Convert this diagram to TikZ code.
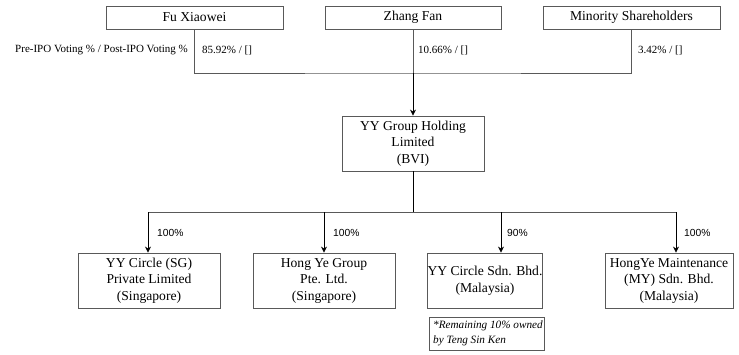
\documentclass[tikz,border=0pt]{standalone}
\usepackage{fontspec}
\setmainfont{Liberation Serif}
\newfontfamily\lsans{Liberation Sans}
\usetikzlibrary{arrows.meta}
\definecolor{ln}{gray}{0.35}
\begin{document}
\begin{tikzpicture}[x=1pt,y=-1pt,
  ent/.style={draw=ln, line width=0.8pt, inner sep=0pt, align=center, font=\fontsize{13.6}{16.5}\selectfont, minimum height=23pt},
  sub/.style={ent, minimum height=55pt},
  lbl/.style={font=\fontsize{11}{13}\selectfont, inner sep=0pt, anchor=west},
  pct/.style={font=\lsans\fontsize{10.3}{12}\selectfont, inner sep=0pt, anchor=west},
  conn/.style={draw=ln, line width=0.8pt},
  arr/.style={draw=black, line width=0.8pt, -{Stealth[length=6pt,width=6pt]}}]
\useasboundingbox (0,0) rectangle (739,354);
\node[ent, minimum width=177pt] (fu) at (194.5,17.5) {Fu Xiaowei};
\node[ent, minimum width=176pt] (zf) at (413,17.5) {Zhang Fan};
\node[ent, minimum width=177pt] (ms) at (631.5,17.5) {Minority Shareholders};
\node[font=\fontsize{11}{13}\selectfont, inner sep=0pt, anchor=east] (hdr) at (188,50) {Pre-IPO Voting \% / Post-IPO Voting \%};
\node[lbl] (p1) at (202,50) {85.92\% / []};
\node[lbl] (p2) at (418,50) {10.66\% / []};
\node[lbl] (p3) at (638,50) {3.42\% / []};
\coordinate (j) at (413,73);
\draw[conn] (fu.south) |- (j) -| (ms.south);
\draw[conn] (zf.south) -- (j);
\node[sub, minimum width=142pt] (yy) at (413,143.5) {YY Group Holding\\Limited\\(BVI)};
\draw[arr] (j) -- (yy.north);
\node[sub, minimum width=142pt] (sg) at (149,280.5) {YY Circle (SG)\\Private Limited\\(Singapore)};
\node[sub, minimum width=142pt] (hy) at (324,280.5) {Hong Ye Group\\Pte. Ltd.\\(Singapore)};
\node[sub, minimum width=114pt] (my) at (485,280.5) {YY Circle Sdn. Bhd.\\(Malaysia)};
\node[sub, minimum width=128pt] (hm) at (669,280.5) {HongYe Maintenance\\(MY) Sdn. Bhd.\\(Malaysia)};
\node[draw=ln, line width=0.8pt, minimum width=115pt, minimum height=33pt, inner sep=0pt] (note) at (486.5,333.5) {};
\node[font=\itshape\fontsize{11.2}{14.5}\selectfont, align=left, anchor=west, inner sep=0pt] (notetxt) at (433,333.5) {*Remaining 10\% owned\\by Teng Sin Ken};
\coordinate (b) at (413,212);
\coordinate (b1) at (148,212);
\coordinate (b2) at (324,212);
\coordinate (b3) at (501,212);
\coordinate (b4) at (676,212);
\draw[conn, draw=black] (yy.south) -- (b);
\draw[conn] (b1) -- (b4);
\draw[arr] (b1) -- (b1 |- sg.north);
\draw[arr] (b2) -- (b2 |- hy.north);
\draw[arr] (b3) -- (b3 |- my.north);
\draw[arr] (b4) -- (b4 |- hm.north);
\node[pct] (q1) at (157,233) {100\%};
\node[pct] (q2) at (333,233) {100\%};
\node[pct] (q3) at (507,233) {90\%};
\node[pct] (q4) at (684,233) {100\%};
\end{tikzpicture}
\end{document}
